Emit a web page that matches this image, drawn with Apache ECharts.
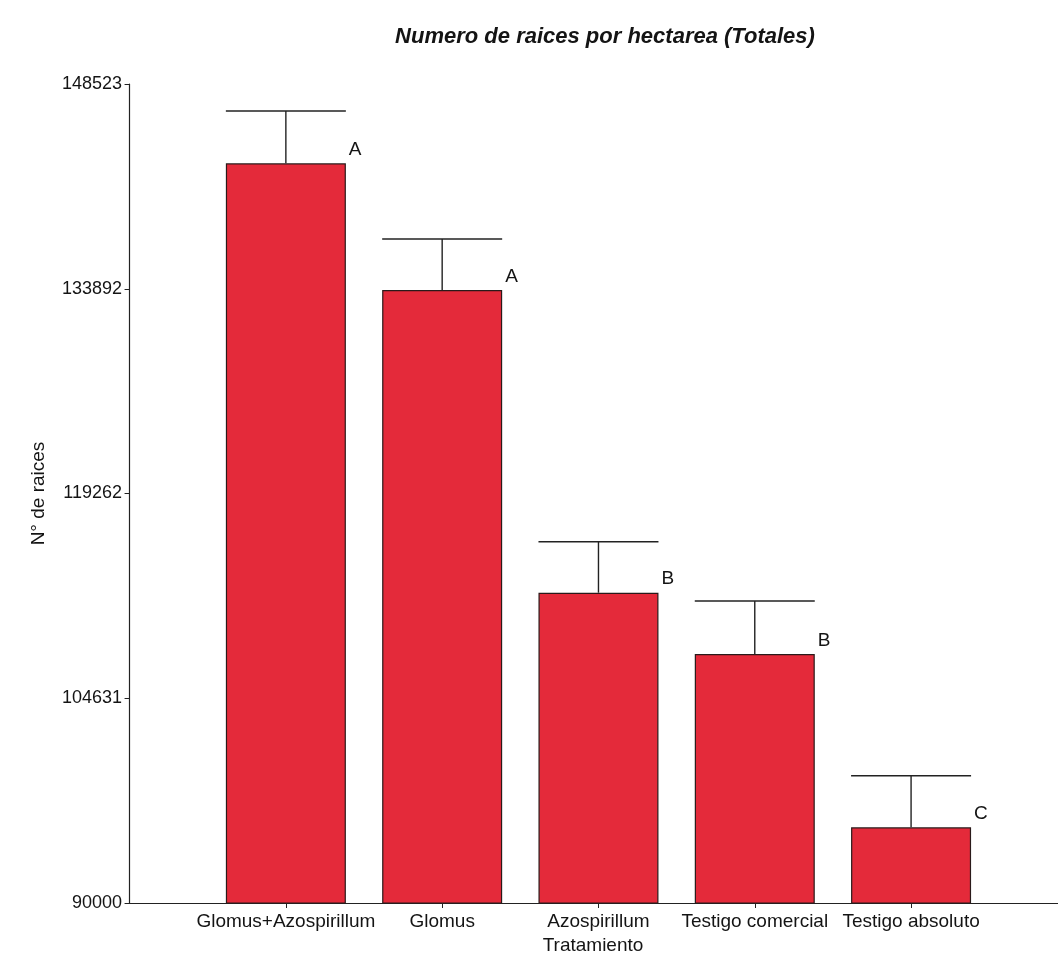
<!DOCTYPE html>
<html>
<head>
<meta charset="utf-8">
<script src="https://cdn.jsdelivr.net/npm/echarts@6/dist/echarts.min.js"></script>
<style>
html,body{margin:0;padding:0;background:#fff;}
#c{width:1058px;height:962px;}
</style>
</head>
<body>
<div id="c"></div>
<script>
var categories = ['Glomus+Azospirillum', 'Glomus', 'Azospirillum', 'Testigo comercial', 'Testigo absoluto'];
var means = [142856, 133803, 112173, 107793, 95409];
var errUpper = [146594, 137447, 115817, 111580, 99097];
var letters = ['A', 'A', 'B', 'B', 'C'];
var yTicks = [90000, 104631, 119262, 133892, 148523];
var positions = [1, 2, 3, 4, 5];

var FONT = 'Liberation Sans, Arial, sans-serif';
var BARW = 120;
var TXT = '#141414';

var chart = echarts.init(document.getElementById('c'), null, {renderer: 'canvas'});

var barData = positions.map(function (p, i) { return [p, means[i]]; });
var errData = positions.map(function (p, i) { return [p, means[i], errUpper[i], i]; });

chart.setOption({
  animation: false,
  backgroundColor: '#ffffff',
  title: {
    text: 'Numero de raices por hectarea (Totales)',
    left: 600,
    textAlign: 'center',
    top: 21,
    textStyle: {fontFamily: FONT, fontSize: 22, fontWeight: 'bold', fontStyle: 'italic', color: TXT}
  },
  grid: {left: 128, right: 0, top: 84, bottom: 59, containLabel: false},
  xAxis: {
    type: 'value',
    min: -0.01,
    max: 5.94,
    name: 'Tratamiento',
    nameLocation: 'middle',
    nameGap: 31,
    nameTextStyle: {fontFamily: FONT, fontSize: 19, color: TXT},
    axisLine: {show: true, lineStyle: {color: '#222', width: 1.2}},
    axisTick: {show: true, customValues: positions, length: 5, inside: false, lineStyle: {color: '#222'}},
    axisLabel: {
      customValues: positions,
      fontFamily: FONT, fontSize: 19, color: TXT, margin: 9,
      formatter: function (v) { return categories[Math.round(v) - 1] || ''; }
    },
    splitLine: {show: false}
  },
  yAxis: {
    type: 'value',
    min: 90000,
    max: 148523,
    name: 'N° de raices',
    nameLocation: 'middle',
    nameGap: 80,
    nameRotate: 90,
    nameTextStyle: {fontFamily: FONT, fontSize: 19, color: TXT},
    axisLine: {show: true, lineStyle: {color: '#222', width: 1.2}},
    axisTick: {show: true, customValues: yTicks, length: 5, lineStyle: {color: '#222'}},
    axisLabel: {
      customValues: yTicks,
      fontFamily: FONT, fontSize: 18, color: TXT, margin: 6,
      formatter: function (v) { return String(Math.round(v)); }
    },
    splitLine: {show: false}
  },
  series: [
    {
      type: 'bar',
      data: barData,
      barWidth: BARW,
      itemStyle: {color: '#e42a3a', borderColor: '#2a1a1a', borderWidth: 1.2},
      z: 2
    },
    {
      type: 'custom',
      data: errData,
      z: 3,
      renderItem: function (params, api) {
        var x = api.value(0);
        var top = api.coord([x, api.value(1)]);
        var up = api.coord([x, api.value(2)]);
        var idx = api.value(3);
        var half = BARW / 2;
        return {
          type: 'group',
          children: [
            {type: 'line', shape: {x1: top[0], y1: top[1], x2: up[0], y2: up[1]}, style: {stroke: '#222', lineWidth: 1.4}},
            {type: 'line', shape: {x1: up[0] - half, y1: up[1], x2: up[0] + half, y2: up[1]}, style: {stroke: '#222', lineWidth: 1.4}},
            {type: 'text', x: top[0] + half + 3, y: top[1] - 4, style: {
              text: letters[idx], fontFamily: FONT, fontSize: 19, fill: TXT,
              textAlign: 'left', textVerticalAlign: 'bottom'
            }}
          ]
        };
      }
    }
  ]
});
</script>
</body>
</html>
